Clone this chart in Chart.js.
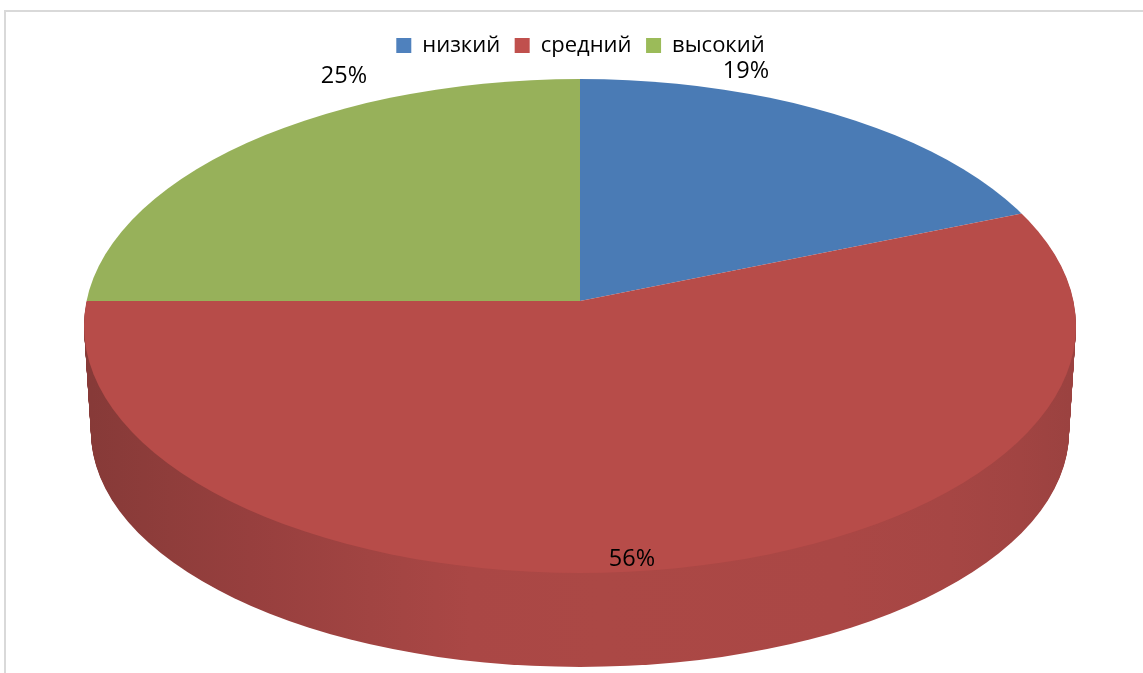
<!DOCTYPE html>
<html>
<head>
<meta charset="utf-8">
<script src="https://cdn.jsdelivr.net/npm/chart.js@4"></script>
<style>
html,body{margin:0;padding:0;background:#fff;overflow:hidden}
#wrap{position:absolute;left:0;top:0;width:1143px;height:673px}
#frame{position:absolute;left:4px;top:10px;width:1143px;height:663px;border-left:2px solid #d9d9d9;border-top:2px solid #d9d9d9;box-sizing:border-box}
canvas{position:absolute;left:0;top:0}
</style>
</head>
<body>
<div id="wrap"><div id="frame"></div><canvas id="c" width="1143" height="673"></canvas></div>
<script>
const categories = ['низкий', 'средний', 'высокий'];
const values = [19, 56, 25];
const valueLabels = ['19%', '56%', '25%'];
const faceColors = ['#4a7bb5', '#b74c49', '#97b15a'];
const legendColors = ['#4f81bd', '#c0504d', '#9bbb59'];
const FONT = '"Open Sans", sans-serif';

// 3D projection geometry (canvas pixels)
const apex = {x: 580, y: 301};
const topRim = {cx: 580, cy: 326, rx: 496, ry: 247};
const baseRim = {cx: 580, cy: 432, rx: 489, ry: 235};
const labelSpots = [{x: 746, y: 71}, {x: 632, y: 559}, {x: 344, y: 76}];
const sideStops = [
  [91, '#873a38'], [170, '#8f3d3b'], [250, '#973f3e'], [370, '#a14442'], [470, '#aa4745'],
  [600, '#ab4845'], [840, '#aa4745'], [950, '#a64644'], [1020, '#a14442'], [1069, '#9b4240']
];

const SPREAD = 720;
function project(ctx, arc, ax, ay) {
  const k = SPREAD / arc.outerRadius;
  ctx.translate(ax, ay);
  ctx.scale(k, k * 0.5);
  ctx.translate(-arc.x, -arc.y);
}
function rimClip(ctx, r) {
  ctx.beginPath();
  ctx.ellipse(r.cx, r.cy, r.rx, r.ry, 0, 0, Math.PI * 2);
  ctx.clip();
}

const pie3d = {
  id: 'pie3d',
  beforeDatasetsDraw(chart) {
    const ctx = chart.ctx;
    const arcs = chart.getDatasetMeta(0).data;
    const arc = arcs[1];
    const k = SPREAD / arc.outerRadius;
    const steps = Math.round(baseRim.cy - topRim.cy);
    const xTo = px => (px - apex.x) / k + arc.x;
    const grad = ctx.createLinearGradient(xTo(91), 0, xTo(1069), 0);
    sideStops.forEach(([px, col]) => grad.addColorStop((px - 91) / (1069 - 91), col));
    for (let i = steps; i >= 1; i--) {
      const t = i / steps;
      const r = {
        cx: topRim.cx,
        cy: topRim.cy + (baseRim.cy - topRim.cy) * t,
        rx: topRim.rx + (baseRim.rx - topRim.rx) * t,
        ry: topRim.ry + (baseRim.ry - topRim.ry) * t
      };
      ctx.save();
      rimClip(ctx, r);
      project(ctx, arc, apex.x, apex.y + (r.cy - topRim.cy));
      const saved = arc.options;
      arc.options = Object.assign({}, saved, {backgroundColor: grad, borderWidth: 0});
      arc.draw(ctx);
      arc.options = saved;
      ctx.restore();
    }
    ctx.save();
    rimClip(ctx, topRim);
    project(ctx, arc, apex.x, apex.y);
  },
  afterDatasetsDraw(chart) {
    chart.ctx.restore();
  },
  afterDraw(chart) {
    const ctx = chart.ctx;
    ctx.save();
    ctx.font = '23.5px ' + FONT;
    ctx.fillStyle = '#000';
    ctx.textAlign = 'center';
    ctx.textBaseline = 'middle';
    valueLabels.forEach((t, i) => ctx.fillText(t, labelSpots[i].x, labelSpots[i].y));
    ctx.restore();
  }
};

new Chart(document.getElementById('c'), {
  type: 'pie',
  data: {
    labels: categories,
    datasets: [{data: values, backgroundColor: faceColors, borderWidth: 0, clip: false}]
  },
  options: {
    responsive: false,
    animation: false,
    layout: {padding: {top: 20, left: 18}},
    plugins: {
      tooltip: {enabled: false},
      legend: {
        position: 'top',
        labels: {
          boxWidth: 15,
          boxHeight: 15,
          padding: 14.5,
          color: '#000',
          font: {family: FONT, size: 22},
          generateLabels: () => categories.map((c, i) => ({
            text: c, fillStyle: legendColors[i], strokeStyle: legendColors[i],
            lineWidth: 0, index: i, hidden: false
          }))
        }
      }
    }
  },
  plugins: [pie3d]
});
</script>
</body>
</html>
